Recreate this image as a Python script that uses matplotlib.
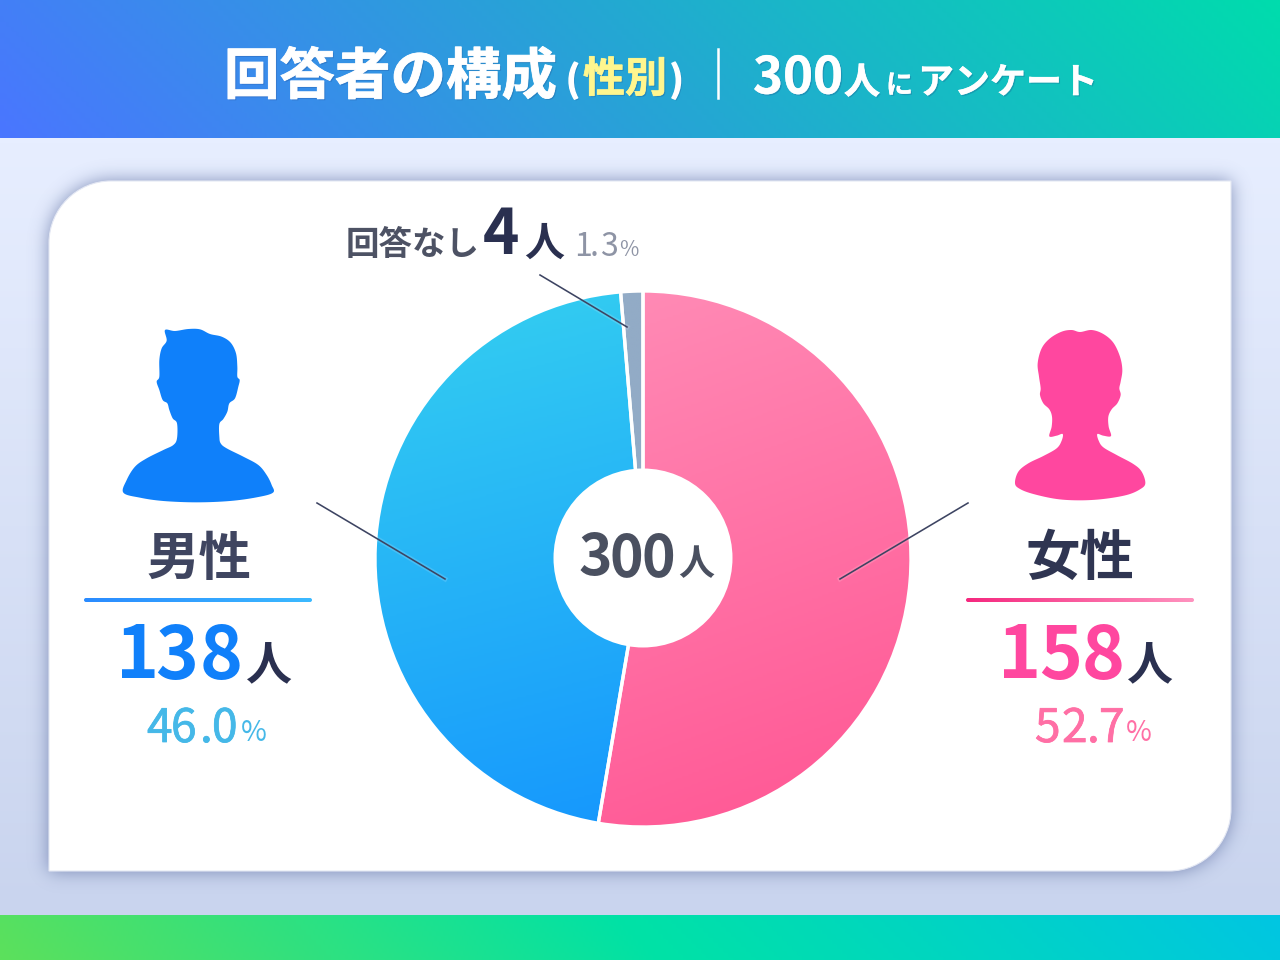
import numpy as np
import matplotlib
matplotlib.use("Agg")
import matplotlib.pyplot as plt
from matplotlib.path import Path
from matplotlib.patches import PathPatch, Circle, FancyBboxPatch
from matplotlib.colors import LinearSegmentedColormap, to_rgb
import matplotlib.patheffects as pe

FONT = ['Noto Sans CJK JP', 'DejaVu Sans']
plt.rcParams['font.family'] = FONT

# ---- data ----
categories = ['女性', '男性', '回答なし']
counts = [158, 138, 4]
percents = ['52.7', '46.0', '1.3']
total = 300
title_main = '回答者の構成'
title_sub = '性別'
title_tail = ['人', 'に', 'アンケート']

male_icon = [(165,30),(195,33),(235,27),(270,28),(300,42),(335,50),(362,68),(378,100),(382,140),(382,170),(389,180),(385,200),(375,235),(358,250),(352,275),(340,297),(328,312),(328,350),(332,370),(350,385),(400,410),(445,435),(470,465),(485,495),(489,518),(440,532),(360,543),(260,547),(160,543),(90,533),(40,518),(50,480),(75,440),(110,415),(160,390),(190,375),(201,355),(201,310),(188,295),(178,270),(172,250),(158,240),(148,210),(140,185),(148,170),(148,120),(155,85),(170,62)]
female_icon = [(240,36),(275,30),(310,42),(340,68),(360,110),(367,150),(362,185),(358,205),(362,225),(352,250),(335,268),(325,290),(326,320),(333,348),(310,347),(292,342),(296,362),(310,382),(350,405),(400,432),(425,455),(436,490),(420,508),(380,525),(310,537),(240,541),(170,537),(100,522),(60,507),(45,490),(55,455),(85,430),(130,408),(170,385),(185,362),(188,342),(170,347),(148,349),(155,320),(156,290),(148,268),(130,250),(120,225),(122,205),(117,170),(113,130),(125,85),(150,55),(185,35),(215,30)]

W, H = 1280, 960
fig = plt.figure(figsize=(12.8, 9.6), dpi=100)
ax = fig.add_axes([0, 0, 1, 1])
ax.set_xlim(0, W); ax.set_ylim(0, H); ax.axis('off')


def Y(y):
    return H - y


def grad(x0, y0, x1, y1, stops, angle=0.0, clip=None, z=1):
    """Gradient over a pixel box (y from top). angle: 0 = left→right, 90 = top→bottom."""
    n = 256
    xx, yy = np.meshgrid(np.linspace(0, 1, n), np.linspace(0, 1, n))
    a = np.deg2rad(angle)
    w, h = abs(x1 - x0), abs(y1 - y0)
    t = (xx * w * np.cos(a) + yy * h * np.sin(a))
    t = (t - t.min()) / (t.max() - t.min())
    cm = LinearSegmentedColormap.from_list('g', stops)
    im = ax.imshow(t, cmap=cm, extent=(x0, x1, Y(y1), Y(y0)), origin='upper',
                   aspect='auto', zorder=z, interpolation='bilinear', vmin=0, vmax=1)
    if clip is not None:
        im.set_clip_path(clip)
    return im


def T(x, y, s, px, color, weight='bold', z=10, fx=None):
    """Text with its left edge at x and its baseline at y (pixels from the top)."""
    t = ax.text(x, Y(y), s, fontsize=px * 0.72, color=color, fontweight=weight,
                ha='left', va='baseline', zorder=z, family=FONT)
    if fx:
        t.set_path_effects(fx)
    return t


def chars(xs, y, s, px, color, weight='bold', fx=None):
    for x, ch in zip(xs, s):
        T(x, y, ch, px, color, weight=weight, fx=fx)


def smooth(pts, ox, oy, k=8):
    p = np.array(pts, float) / 3.0 + [ox, oy]
    out = []
    m = len(p)
    for i in range(m):
        p0, p1, p2, p3 = p[i - 1], p[i], p[(i + 1) % m], p[(i + 2) % m]
        for u in np.linspace(0, 1, k, endpoint=False):
            out.append(0.5 * (2 * p1 + (p2 - p0) * u + (2 * p0 - 5 * p1 + 4 * p2 - p3) * u ** 2
                              + (3 * p1 - p0 - 3 * p2 + p3) * u ** 3))
    out = np.array(out)
    out[:, 1] = H - out[:, 1]
    return Path(np.vstack([out, out[0]]), closed=True)


# ---- page background ----
grad(0, 138, W, 915, ['#e7eeff', '#c9d4ee'], angle=90, z=0)
grad(0, 0, W, 138, ['#4a76ff', '#25a6d4', '#00dcad'], angle=-45, z=1)
grad(0, 915, W, 960, ['#5ce05c', '#00e2a6', '#00c6e2'], angle=-45, z=1)

# ---- card ----
x0, x1, yt, yb, r = 49, 1231, 181, 871, 62
c = 0.45 * r
verts = [(x0 + r, yt), (x1, yt), (x1, yb - r), (x1, yb - r + 0), (x1, yb - r + r - c), (x1 - c, yb), (x1 - r, yb),
         (x0, yb), (x0, yt + r), (x0, yt + c), (x0 + c, yt), (x0 + r, yt)]
codes = [Path.MOVETO, Path.LINETO, Path.LINETO, Path.LINETO, Path.CURVE4, Path.CURVE4, Path.CURVE4,
         Path.LINETO, Path.LINETO, Path.CURVE4, Path.CURVE4, Path.CURVE4]
card_path = Path([(a, Y(b)) for a, b in verts], codes)

# soft shadow: the card's mask, gaussian-blurred
gx, gy = np.meshgrid(np.arange(W) + .5, H - np.arange(H) - .5)
mask = card_path.contains_points(np.c_[gx.ravel(), gy.ravel()]).reshape(H, W).astype(float)
sigma = 9.0
fy = np.fft.fftfreq(H)[:, None]
fx_ = np.fft.rfftfreq(W)[None, :]
blur = np.fft.irfft2(np.fft.rfft2(mask) * np.exp(-2 * (np.pi * sigma) ** 2 * (fx_ ** 2 + fy ** 2)), s=(H, W))
rgba = np.zeros((H, W, 4))
rgba[..., :3] = to_rgb('#56679a')
rgba[..., 3] = np.clip(blur, 0, 1) * 0.72
rgba[:138, :, 3] = 0
ax.imshow(rgba, extent=(0, W, 0, H), origin='upper', aspect='auto', zorder=2, interpolation='nearest')
ax.add_patch(PathPatch(card_path, fc='white', ec='#e4e8f4', lw=0.8, zorder=3))

# ---- pie ----
CX, CY, R = 643, 559, 268
wedges, _ = ax.pie(counts, startangle=90, counterclock=False, center=(CX, Y(CY)), radius=R,
                   wedgeprops=dict(fc='none', ec='none'), frame=True)
ax.set_xlim(0, W); ax.set_ylim(0, H); ax.set_aspect('auto'); ax.axis('off')
fills = [(['#ff92ba', '#ff5593'], 70), (['#35d0f0', '#1290ff'], 75), (['#92abc6', '#92abc6'], 90)]
for wd, (stops, ang) in zip(wedges, fills):
    wd.set_zorder(4.5)
    grad(CX - R, CY - R, CX + R, CY + R, stops, angle=ang, clip=wd, z=4)
    wd.set_edgecolor('white'); wd.set_linewidth(2.4)
ax.set_xlim(0, W); ax.set_ylim(0, H)
ax.add_patch(Circle((CX, Y(558)), 89.5, fc='white', ec='none', zorder=5))

# ---- leader lines ----
glow = [pe.Stroke(linewidth=3.5, foreground='#ffffff', alpha=.14), pe.Normal()]
for (a, b), (c_, d) in [((317, 503), (445, 579)), ((968, 503), (840, 579)), ((540, 275), (627, 327))]:
    ax.plot([a, c_], [Y(b), Y(d)], color='#3d4462', lw=1.15, zorder=6, path_effects=glow)

# ---- icons ----
ax.add_patch(PathPatch(smooth(male_icon, 110, 320), fc='#0f80fa', ec='none', zorder=6))
ax.add_patch(PathPatch(smooth(female_icon, 1000, 320), fc='#ff479f', ec='none', zorder=6))

# ---- underlines ----
for xa, xb, st in [(84, 312, ['#2a8bff', '#3cbaff']), (966, 1194, ['#f5287f', '#ff93bf'])]:
    bar = FancyBboxPatch((xa, Y(602)), xb - xa, 4, boxstyle='round,pad=0,rounding_size=2', fc='none', ec='none', zorder=6)
    ax.add_patch(bar)
    grad(xa, 598, xb, 602, st, angle=0, clip=bar, z=6)
ax.set_xlim(0, W); ax.set_ylim(0, H)


# ---- header ----
def head_fx(color, lw=0.6):
    return [pe.SimplePatchShadow(offset=(1, -1), shadow_rgbFace='#204080', alpha=.25),
            pe.Stroke(linewidth=lw, foreground=color), pe.Normal()]


T(224, 94, title_main, 55.5, 'white', fx=head_fx('white'))
T(566, 92, '(', 36, 'white', fx=head_fx('white', 1.0))
T(583, 92, title_sub, 42, '#fff68e', fx=head_fx('#fff68e', 0.5))
T(670, 92, ')', 36, 'white', fx=head_fx('white', 1.0))
ax.plot([717.5, 717.5], [Y(49), Y(98)], color='white', lw=1.8, zorder=10)
chars([753, 783, 813], 93.5, str(total), 51, 'white', fx=head_fx('white', 0.2))
T(844, 93.5, title_tail[0], 36, 'white', fx=head_fx('white'))
T(886, 93.5, title_tail[1], 27, 'white', fx=head_fx('white', 0.2))
T(918, 93.5, title_tail[2], 36, 'white', fx=head_fx('white', 0.2))

DARK = '#2a3050'
mid = lambda col: [pe.Stroke(linewidth=0.55, foreground=col), pe.Normal()]

# ---- male block ----
T(146, 575, categories[1], 52.5, '#3f4560')
chars([116, 155, 200], 678.5, str(counts[1]), 73, '#1080fa')
T(246, 680, '人', 46, DARK)
chars([147, 171, 200, 212], 742, percents[1], 46, '#45b8e8', weight='regular', fx=mid('#45b8e8'))
T(241, 741, '%', 28, '#45b8e8', weight='regular')

# ---- female block ----
T(1026, 575, categories[0], 54.5, '#2f3552')
chars([998, 1039, 1082], 678.5, str(counts[0]), 73, '#ff479f')
T(1127, 680, '人', 46, DARK)
chars([1035, 1062, 1087, 1099], 742, percents[0], 46, '#ff6fa5', weight='regular', fx=mid('#ff6fa5'))
T(1126, 741, '%', 28, '#ff6fa5', weight='regular')

# ---- no answer ----
T(346, 255, categories[2], 33.5, '#4d5264')
T(483, 254, str(counts[2]), 62, DARK)
T(524, 256, '人', 40, DARK)
chars([574, 590, 600], 256.5, percents[2], 32, '#8e94a5', weight='regular')
T(619, 256, '%', 21, '#8e94a5', weight='regular')

# ---- centre ----
chars([579, 610, 642], 576, str(total), 57, '#4a5060')
T(678, 575, '人', 36, '#4a5060')

fig.savefig('out.png', dpi=100)
